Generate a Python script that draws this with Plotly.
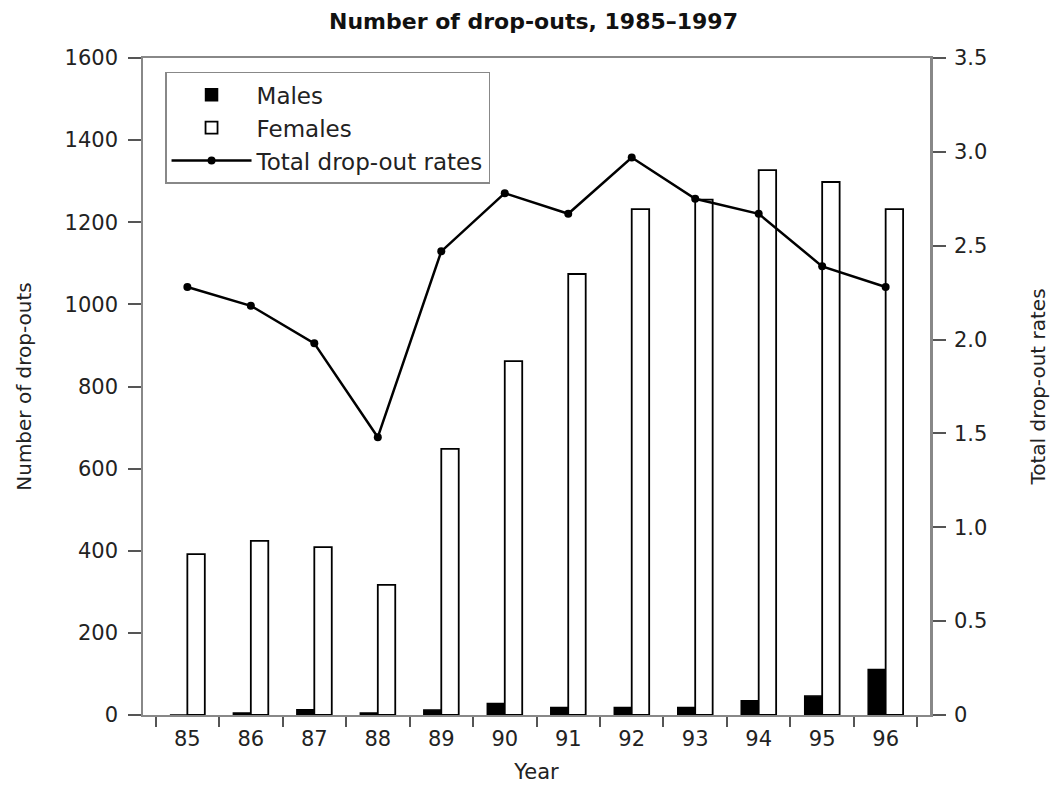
import plotly.graph_objects as go

years = ["85", "86", "87", "88", "89", "90", "91", "92", "93", "94", "95", "96"]
males = [0, 5, 13, 5, 12, 28, 18, 18, 18, 35, 46, 111]
females = [392, 424, 409, 317, 648, 862, 1074, 1232, 1255, 1327, 1298, 1232]
rates = [2.28, 2.18, 1.98, 1.48, 2.47, 2.78, 2.67, 2.97, 2.75, 2.67, 2.39, 2.28]

left_ticks = [0, 200, 400, 600, 800, 1000, 1200, 1400, 1600]
right_ticks = [0, 0.5, 1.0, 1.5, 2.0, 2.5, 3.0, 3.5]
right_tick_text = ["0", "0.5", "1.0", "1.5", "2.0", "2.5", "3.0", "3.5"]

FONT = "DejaVu Sans"
AXIS_GRAY = "#888888"
TEXT = "#222222"

fig = go.Figure()
fig.add_trace(go.Bar(
    x=years, y=males, name="Males",
    marker=dict(color="black", line=dict(color="black", width=1.5)),
))
fig.add_trace(go.Bar(
    x=years, y=females, name="Females",
    marker=dict(color="white", line=dict(color="black", width=1.8)),
))
fig.add_trace(go.Scatter(
    x=years, y=rates, name="Total drop-out rates", yaxis="y2",
    mode="lines+markers",
    line=dict(color="black", width=2.5),
    marker=dict(color="black", size=8),
))

fig.update_layout(
    width=1051, height=778,
    margin=dict(l=135, r=129, t=50, b=71),
    paper_bgcolor="white", plot_bgcolor="white",
    font=dict(family=FONT, size=21, color=TEXT),
    barmode="group", bargap=0.45, bargroupgap=0,
    title=dict(text="<b>Number of drop-outs, 1985\u20131997</b>",
               x=0.5, xanchor="center", y=1 - 13 / 778, yanchor="middle",
               yref="container", font=dict(family=FONT, size=22, color="#111111")),
    showlegend=True,
    legend=dict(x=0.028, y=0.979, xanchor="left", yanchor="top",
                bgcolor="white", bordercolor=AXIS_GRAY, borderwidth=1.5,
                font=dict(family=FONT, size=23, color=TEXT),
                tracegroupgap=0, itemwidth=80),
    xaxis=dict(
        type="category", tickson="boundaries", automargin=False,
        showline=True, linecolor=AXIS_GRAY, linewidth=1.5, mirror=True,
        ticks="outside", ticklen=10, tickcolor="#555555", tickwidth=1.5,
        ticklabelstandoff=4,
        showgrid=False, zeroline=False,
        tickfont=dict(size=21),
        title=dict(text="Year", standoff=14, font=dict(size=21)),
    ),
    yaxis=dict(
        range=[0, 1600], tickvals=left_ticks, automargin=False,
        showline=True, linecolor=AXIS_GRAY, linewidth=1.5,
        ticks="outside", ticklen=13, tickcolor="#555555", tickwidth=1.5,
        ticklabelstandoff=6,
        showgrid=False, zeroline=False,
        tickfont=dict(size=21),
        title=dict(text="Number of drop-outs", standoff=28, font=dict(size=20)),
    ),
    yaxis2=dict(
        range=[0, 3.5], tickvals=right_ticks, ticktext=right_tick_text,
        overlaying="y", side="right", automargin=False,
        showline=True, linecolor=AXIS_GRAY, linewidth=2.5,
        ticks="outside", ticklen=13, tickcolor="#555555", tickwidth=1.5,
        ticklabelstandoff=4,
        showgrid=False, zeroline=False,
        tickfont=dict(size=21),
        title=dict(text="Total drop-out rates", standoff=45, font=dict(size=20)),
    ),
)

fig.write_html("out.html")
